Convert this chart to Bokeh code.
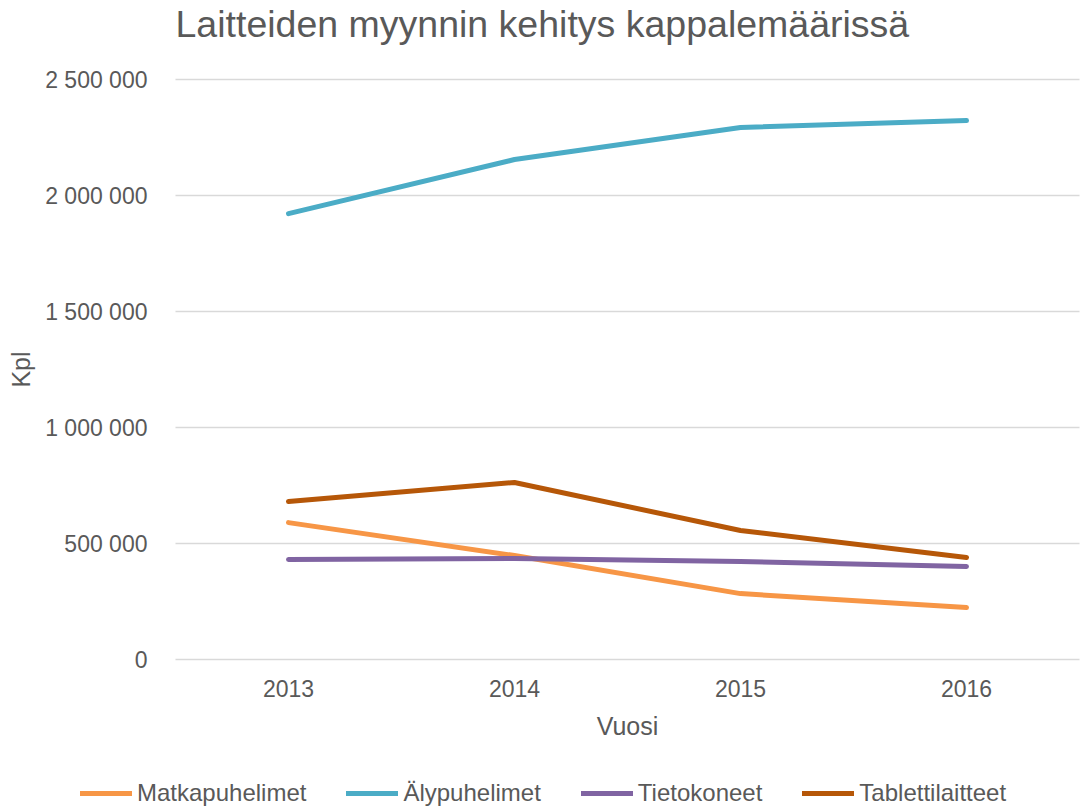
from bokeh.plotting import figure
from bokeh.models import (Legend, LegendItem, FixedTicker, CustomJSTickFormatter, Range1d,
                          LinearAxis, Label)
from bokeh.embed import file_html
from bokeh.resources import INLINE

years = ["2013", "2014", "2015", "2016"]
matkapuhelimet = [590000, 448000, 284000, 224000]
alypuhelimet = [1922000, 2155000, 2293000, 2323000]
tietokoneet = [431000, 435000, 422000, 401000]
tablettilaitteet = [681000, 763000, 556000, 440000]
series_names = ["Matkapuhelimet", "Älypuhelimet", "Tietokoneet", "Tablettilaitteet"]
colors = ["#F79646", "#4BACC6", "#8064A2", "#B65708"]
y_ticks = [0, 500000, 1000000, 1500000, 2000000, 2500000]
title_text = "Laitteiden myynnin kehitys kappalemäärissä"

FONT = "Liberation Sans"
TXT = "#595959"

# Canvas / plot-area geometry (pixels)
W, H = 1080, 808
PA_LEFT, PA_RIGHT, PA_TOP, PA_BOTTOM = 175, 1079, 79, 659

xs = [int(y) for y in years]
x_lo, x_hi = xs[0] - 0.5, xs[-1] + 0.5
px_per_x = (PA_RIGHT - PA_LEFT) / (x_hi - x_lo)
y_lo, y_hi = y_ticks[0], y_ticks[-1]
px_per_y = (PA_BOTTOM - PA_TOP) / (y_hi - y_lo)

x_range = Range1d(x_lo - PA_LEFT / px_per_x, x_hi + (W - PA_RIGHT) / px_per_x)
y_range = Range1d(y_lo - (H - PA_BOTTOM) / px_per_y, y_hi + PA_TOP / px_per_y)

p = figure(width=W, height=H, x_range=x_range, y_range=y_range,
           output_backend="svg", toolbar_location=None, title_location=None,
           x_axis_type=None, y_axis_type=None,
           min_border_left=0, min_border_right=0, min_border_top=0, min_border_bottom=0)
p.outline_line_color = None

# horizontal gridlines spanning the plot area only
p.segment(x0=[x_lo] * len(y_ticks), x1=[x_hi] * len(y_ticks), y0=y_ticks, y1=y_ticks,
          line_color="#D9D9D9", line_width=1.5)

xaxis = LinearAxis(fixed_location=y_lo, bounds=(x_lo, x_hi), ticker=FixedTicker(ticks=xs),
                   major_label_overrides={x: y for x, y in zip(xs, years)},
                   axis_label="Vuosi", major_label_standoff=14, axis_label_standoff=12)
yaxis = LinearAxis(fixed_location=x_lo, bounds=(y_lo, y_hi), ticker=FixedTicker(ticks=y_ticks),
                   formatter=CustomJSTickFormatter(code="return Math.round(tick).toString().replace(/\\B(?=(\\d{3})+(?!\\d))/g, ' ');"),
                   axis_label="Kpl", major_label_standoff=22, axis_label_standoff=7)
for ax in (xaxis, yaxis):
    ax.axis_line_color = None
    ax.major_tick_line_color = None
    ax.minor_tick_line_color = None
    ax.major_label_text_font = FONT
    ax.major_label_text_font_size = "23px"
    ax.major_label_text_color = TXT
    ax.axis_label_text_font = FONT
    ax.axis_label_text_font_size = "25px"
    ax.axis_label_text_font_style = "normal"
    ax.axis_label_text_color = TXT
p.add_layout(xaxis, "below")
p.add_layout(yaxis, "left")

title = Label(x=175, y=H - 23, x_units="screen", y_units="screen", text=title_text,
              text_font=FONT, text_font_size="37.5px", text_color=TXT,
              text_baseline="alphabetic", text_align="left")
p.add_layout(title)

items = []
all_series = [matkapuhelimet, alypuhelimet, tietokoneet, tablettilaitteet]
for name, vals, c in zip(series_names, all_series, colors):
    r = p.line(xs, vals, line_color=c, line_width=5, line_cap="round", line_join="round")
    items.append(LegendItem(label=name, renderers=[r]))

legend = Legend(items=items, orientation="horizontal", location=(80, 1),
                label_text_font=FONT, label_text_font_size="24px", label_text_color=TXT,
                glyph_width=52, label_standoff=5, spacing=40, border_line_color=None,
                background_fill_alpha=0, padding=0, margin=0)
p.add_layout(legend, "center")

open("out.html", "w").write(file_html(p, INLINE))
